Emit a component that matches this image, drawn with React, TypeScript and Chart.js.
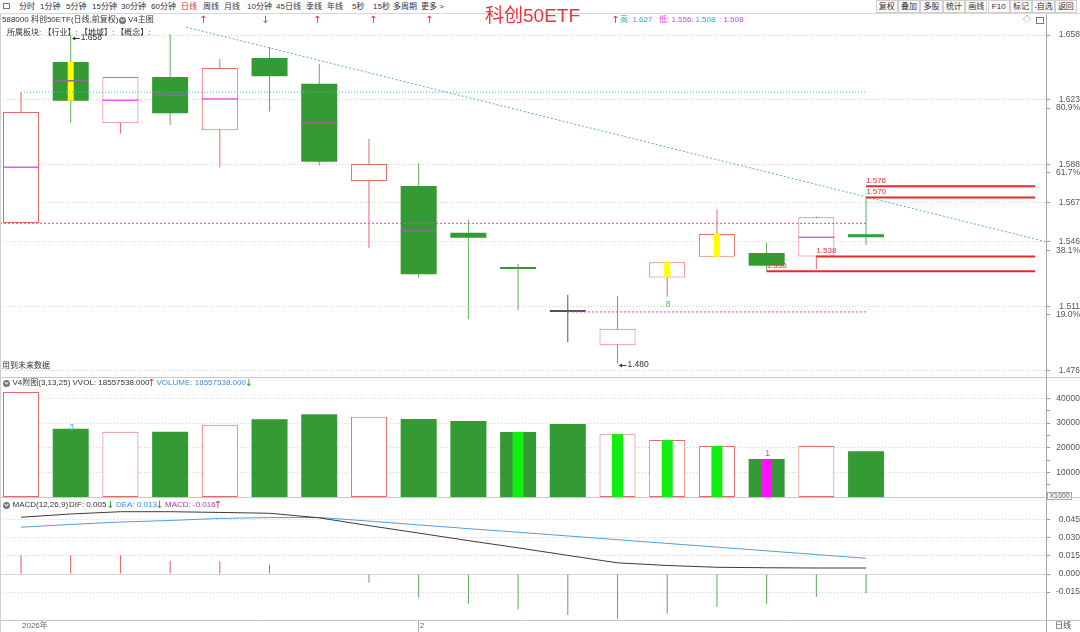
import React, { useEffect, useRef } from 'react';
import { Chart, registerables } from 'chart.js';

Chart.register(...registerables);

/* ---------------- data ---------------- */
const candleIdx = [0, 1, 2, 3, 4, 5, 6, 7, 8, 9, 10, 11, 12, 13, 14, 15, 16, 17];
const openPrices = [1.5562, 1.6434, 1.6102, 1.6353, 1.6064, 1.6455, 1.6316, 1.5789, 1.5762, 1.5509, 1.5318, 1.508, 1.4899, 1.5267, 1.5379, 1.5399, 1.538, 1.55];
const closePrices = [1.6163, 1.6224, 1.6353, 1.6156, 1.6401, 1.6356, 1.5894, 1.5881, 1.5284, 1.5482, 1.5313, 1.508, 1.4989, 1.5349, 1.5502, 1.533, 1.5593, 1.5484];
const highPrices = [1.6271, 1.658, 1.6353, 1.6584, 1.645, 1.6513, 1.6423, 1.6017, 1.5885, 1.558, 1.534, 1.5172, 1.5166, 1.5349, 1.5636, 1.5455, 1.5597, 1.57];
const lowPrices = [1.5562, 1.6105, 1.6045, 1.6092, 1.5863, 1.6165, 1.5874, 1.5425, 1.5262, 1.504, 1.5089, 1.4915, 1.48, 1.5162, 1.5379, 1.53, 1.5312, 1.5442];
const avgLineIdx = [0, 1, 2, 3, 4, 6, 8, 16];
const avgLineVals = [1.5863, 1.6332, 1.6226, 1.6255, 1.6233, 1.6105, 1.552, 1.5484];
const signalBodyIdx = [1, 13, 14];

const priceTickVals = [1.658, 1.623, 1.588, 1.567, 1.546, 1.511, 1.476];
const priceTickLabels = ['1.658', '1.623', '1.588', '1.567', '1.546', '1.511', '1.476'];
const pctTickAnchor = [1.623, 1.588, 1.546, 1.511];
const pctTickLabels = ['80.9%', '61.7%', '38.1%', '19.0%'];

const levelVals = [1.576, 1.57, 1.538, 1.53];
const levelFromIdx = [17, 17, 16, 15];
const levelToIdx = 20.4;

const refHigh = 1.627;
const refLow = 1.556;
const refLast = 1.508;
const refHighFrom = 0;
const refLowFrom = -0.4225;
const refLastFrom = 11;
const refTo = 17;
const trendIdx = [3.32, 20.62];
const trendVals = [1.6623, 1.546];

const peakIdx = 1;
const peakVal = 1.658;
const troughIdx = 12;
const troughVal = 1.48;
const signal8Idx = 13;
const signal8Text = '8';

const volumes = [42630, 27650, 26440, 26440, 29270, 31540, 33560, 32510, 31600, 30800, 26400, 29600, 25500, 23100, 20700, 15400, 20700, 18558];
const volSignalA = [10, 12, 13, 14];
const volSignalB = [15];
const volNoteIdx = [1, 15];
const volNoteText = ['3', '1'];
const volTickVals = [40000, 30000, 20000, 10000];
const volTickLabels = ['40000', '30000', '20000', '10000'];
const volMinorVals = [35000, 25000, 15000, 5000];

const macdHist = [0.0156, 0.0156, 0.0156, 0.0111, 0.0106, 0.0078, 0.0005, -0.0072, -0.0197, -0.0247, -0.0294, -0.0342, -0.0372, -0.0331, -0.0275, -0.0247, -0.0189, -0.0161];
const difVals = [0.0473, 0.05, 0.0519, 0.0519, 0.0513, 0.0506, 0.0468, 0.0403, 0.0341, 0.0278, 0.0218, 0.0155, 0.0093, 0.0071, 0.0056, 0.0052, 0.005, 0.005];
const deaVals = [0.039, 0.0413, 0.0433, 0.0446, 0.0463, 0.047, 0.0471, 0.0441, 0.0409, 0.0378, 0.0348, 0.0317, 0.0286, 0.0255, 0.0224, 0.0193, 0.0162, 0.0131];
const macdTickVals = [0.045, 0.03, 0.015, 0, -0.015];
const macdTickLabels = ['0.045', '0.030', '0.015', '0.000', '-0.015'];
const dateTickIdx = [0, 8];
const dateTickLabels = ['2026年', '2'];

/* ---------------- layout / style ---------------- */
const X_MIN = -0.4225;
const X_MAX = 20.62;
const MAIN_MIN = 1.47273;
const MAIN_MAX = 1.66938;
const MAIN_H = 363;
const VOL_MAX = 48276;
const MACD_MIN = -0.03833;
const MACD_MAX = 0.06333;

const FONT = '"Liberation Sans", Arial, "Noto Sans CJK SC", sans-serif';
const UP = '#e46a6a';
const DOWN = '#349a34';
const FLAT = '#555555';
const WICK_DOWN = '#5fae5f';
const GRID = '#d0d0d0';
const AXIS = '#a8a8a8';
const TRANSP = 'rgba(0,0,0,0)';

const kind = (i: number) => (closePrices[i] > openPrices[i] ? 'up' : closePrices[i] < openPrices[i] ? 'down' : 'flat');

const key = (v: any) => Number(v).toFixed(6);

function xScale() {
  return {
    type: 'linear',
    min: X_MIN,
    max: X_MAX,
    offset: false,
    display: false,
    grid: { offset: false },
    afterBuildTicks: (s: any) => {
      s.ticks = candleIdx.map((v) => ({ value: v }));
    },
  };
}

function yAxis(min: number, max: number, ticks: { value: number; label: string; major: boolean }[], zeroSolid = false) {
  const map = new Map(ticks.map((t) => [key(t.value), t]));
  const get = (v: any) => map.get(key(v));
  return {
    position: 'right',
    min,
    max,
    afterBuildTicks: (s: any) => {
      s.ticks = ticks.map((t) => ({ value: t.value }));
    },
    afterFit: (s: any) => {
      s.width = 34;
      s.paddingTop = 0;
      s.paddingBottom = 0;
    },
    ticks: {
      autoSkip: false,
      padding: 1,
      crossAlign: 'far',
      color: '#555',
      font: { family: FONT, size: 8.5 },
      callback: (v: any) => (get(v) ? get(v)!.label : ''),
    },
    grid: {
      color: (c: any) => {
        if (!c.tick) return TRANSP;
        const t = get(c.tick.value);
        if (!t || !t.major) return TRANSP;
        return zeroSolid && c.tick.value === 0 ? '#d6d6d6' : GRID;
      },
      tickColor: '#999',
      tickLength: 4,
      lineWidth: 1,
    },
    border: {
      display: true,
      color: AXIS,
      dash: (c: any) => (zeroSolid && c.tick && c.tick.value === 0 ? [] : [1, 2]),
    },
  };
}

const baseOptions = {
  responsive: false,
  animation: false,
  devicePixelRatio: 1,
  events: [],
  layout: { padding: 0, autoPadding: false },
  plugins: { legend: { display: false }, tooltip: { enabled: false } },
};

function hline(x0: number, x1: number, y: number, color: string, width: number, dash: number[]) {
  return {
    type: 'line',
    data: [
      { x: x0, y },
      { x: x1, y },
    ],
    borderColor: color,
    borderWidth: width,
    borderDash: dash,
    pointRadius: 0,
    order: 1,
  };
}

function arrowLabel(ctx: CanvasRenderingContext2D, x: number, y: number, text: string, color: string) {
  ctx.strokeStyle = color;
  ctx.fillStyle = color;
  ctx.lineWidth = 1;
  ctx.beginPath();
  ctx.moveTo(x + 2, y + 0.5);
  ctx.lineTo(x + 9, y + 0.5);
  ctx.stroke();
  ctx.beginPath();
  ctx.moveTo(x + 1.5, y + 0.5);
  ctx.lineTo(x + 4.5, y - 1.5);
  ctx.lineTo(x + 4.5, y + 2.5);
  ctx.closePath();
  ctx.fill();
  ctx.textAlign = 'left';
  ctx.textBaseline = 'middle';
  ctx.fillText(text, x + 10, y);
}

function mainConfig(): any {
  const pctOffset = 8.5 * ((MAIN_MAX - MAIN_MIN) / MAIN_H);
  const ticks = [
    ...priceTickVals.map((v, i) => ({ value: v, label: priceTickLabels[i], major: true })),
    ...pctTickAnchor.map((v, i) => ({ value: v - pctOffset, label: pctTickLabels[i], major: false })),
  ].sort((a, b) => a.value - b.value);

  const labelPlugin = {
    id: 'mainLabels',
    afterDatasetsDraw(chart: any) {
      const { ctx, scales } = chart;
      const x = scales.x;
      const y = scales.y;
      ctx.save();
      ctx.font = `8px ${FONT}`;
      levelVals.forEach((v, i) => {
        ctx.fillStyle = '#e03030';
        ctx.textAlign = 'left';
        ctx.textBaseline = 'middle';
        ctx.fillText(v.toFixed(3), x.getPixelForValue(levelFromIdx[i]), y.getPixelForValue(v) - 5.5);
      });
      ctx.font = `8.5px ${FONT}`;
      arrowLabel(ctx, x.getPixelForValue(peakIdx), y.getPixelForValue(peakVal) + 3, peakVal.toFixed(3), '#333');
      arrowLabel(ctx, x.getPixelForValue(troughIdx), y.getPixelForValue(troughVal) + 1.5, troughVal.toFixed(3), '#333');
      ctx.fillStyle = '#3fcf3f';
      ctx.textAlign = 'center';
      ctx.textBaseline = 'middle';
      ctx.fillText(signal8Text, x.getPixelForValue(signal8Idx) + 1, y.getPixelForValue(lowPrices[signal8Idx]) + 8);
      ctx.restore();
    },
  };

  return {
    type: 'bar',
    data: {
      datasets: [
        {
          label: 'wick',
          data: candleIdx.map((i) => ({ x: i, y: [lowPrices[i], highPrices[i]] })),
          backgroundColor: candleIdx.map((i) => (kind(i) === 'up' ? UP : kind(i) === 'down' ? WICK_DOWN : FLAT)),
          borderWidth: 0,
          barThickness: 1,
          maxBarThickness: 1,
          inflateAmount: 0,
          grouped: false,
          order: 6,
        },
        {
          label: 'body',
          data: candleIdx.map((i) => ({ x: i, y: [openPrices[i], closePrices[i]] })),
          backgroundColor: candleIdx.map((i) => (kind(i) === 'up' ? '#ffffff' : kind(i) === 'down' ? DOWN : FLAT)),
          borderColor: candleIdx.map((i) => (kind(i) === 'up' ? UP : kind(i) === 'down' ? DOWN : FLAT)),
          borderWidth: candleIdx.map((i) => (kind(i) === 'up' ? 1 : 0)),
          borderSkipped: false,
          barThickness: 36,
          maxBarThickness: 36,
          minBarLength: 2,
          inflateAmount: 0,
          grouped: false,
          order: 5,
        },
        {
          label: 'signal',
          data: signalBodyIdx.map((i) => ({ x: i, y: [openPrices[i], closePrices[i]] })),
          backgroundColor: '#ffff00',
          borderWidth: 0,
          barThickness: 6,
          maxBarThickness: 6,
          inflateAmount: 0,
          grouped: false,
          order: 4,
        },
        {
          type: 'line',
          label: 'avg',
          data: avgLineIdx.map((i, k) => ({ x: i, y: avgLineVals[k] })),
          showLine: false,
          pointStyle: 'line',
          pointRadius: 18,
          pointBorderWidth: 1.5,
          pointBorderColor: avgLineIdx.map((i) => (kind(i) === 'up' ? '#ee55ee' : '#8a6f8a')),
          pointBackgroundColor: TRANSP,
          order: 3,
        },
        {
          type: 'line',
          label: 'trend',
          data: trendIdx.map((v, k) => ({ x: v, y: trendVals[k] })),
          borderColor: '#5aa6e6',
          borderWidth: 1,
          borderDash: [2, 2],
          pointRadius: 0,
          order: 2,
        },
        hline(refHighFrom, refTo, refHigh, '#35c8c8', 1, [1, 2]),
        hline(refLowFrom, refTo, refLow, '#e040e0', 1, [2, 2]),
        hline(refLastFrom, refTo, refLast, '#e040e0', 1, [2, 2]),
        ...levelVals.map((v, i) => hline(levelFromIdx[i], levelToIdx, v, '#e42a2a', 2, [])),
      ],
    },
    options: {
      ...baseOptions,
      scales: {
        x: xScale(),
        y: yAxis(MAIN_MIN, MAIN_MAX, ticks),
      },
    },
    plugins: [labelPlugin],
  };
}

function volConfig(): any {
  const ticks = [
    ...volTickVals.map((v, i) => ({ value: v, label: volTickLabels[i], major: true })),
    ...volMinorVals.map((v) => ({ value: v, label: '', major: false })),
  ].sort((a, b) => a.value - b.value);
  const volUp = (i: number) => kind(i) === 'up';
  const notePlugin = {
    id: 'volNotes',
    afterDatasetsDraw(chart: any) {
      const { ctx, scales } = chart;
      ctx.save();
      ctx.font = `8.5px ${FONT}`;
      ctx.textAlign = 'center';
      ctx.textBaseline = 'bottom';
      volNoteIdx.forEach((idx, k) => {
        ctx.fillStyle = k === 0 ? '#33b8d0' : '#e030e0';
        ctx.fillText(volNoteText[k], scales.x.getPixelForValue(idx) + 1, scales.y.getPixelForValue(volumes[idx]) + (k === 0 ? 3 : -1));
      });
      ctx.restore();
    },
  };
  const stripeIdx = [...volSignalA, ...volSignalB];
  return {
    type: 'bar',
    data: {
      datasets: [
        {
          label: 'vol',
          data: candleIdx.map((i) => ({ x: i, y: volumes[i] })),
          backgroundColor: candleIdx.map((i) => (volUp(i) ? '#ffffff' : DOWN)),
          borderColor: candleIdx.map((i) => (volUp(i) ? UP : DOWN)),
          borderWidth: candleIdx.map((i) => (volUp(i) ? 1 : 0)),
          borderSkipped: false,
          barThickness: 36,
          maxBarThickness: 36,
          inflateAmount: 0,
          grouped: false,
          order: 2,
        },
        {
          label: 'volSignal',
          data: stripeIdx.map((i) => ({ x: i, y: volumes[i] })),
          backgroundColor: stripeIdx.map((i) => (volSignalB.includes(i) ? '#ff11ff' : '#11ee11')),
          borderWidth: 0,
          barThickness: 11,
          maxBarThickness: 11,
          inflateAmount: 0,
          grouped: false,
          order: 1,
        },
      ],
    },
    options: {
      ...baseOptions,
      scales: {
        x: xScale(),
        y: yAxis(0, VOL_MAX, ticks),
      },
    },
    plugins: [notePlugin],
  };
}

function macdConfig(): any {
  const ticks = macdTickVals.map((v, i) => ({ value: v, label: macdTickLabels[i], major: true }));
  const dateLabel = (v: any) => {
    const k = dateTickIdx.findIndex((d) => key(d) === key(v));
    return k >= 0 ? dateTickLabels[k] : '';
  };
  return {
    type: 'bar',
    data: {
      datasets: [
        {
          label: 'MACD',
          data: candleIdx.map((i) => ({ x: i, y: macdHist[i] })),
          backgroundColor: candleIdx.map((i) => (macdHist[i] >= 0 ? '#e05a5a' : '#5aa85a')),
          borderWidth: 0,
          barThickness: 1,
          maxBarThickness: 1,
          inflateAmount: 0,
          grouped: false,
          order: 3,
        },
        {
          type: 'line',
          label: 'DEA',
          data: candleIdx.map((i) => ({ x: i, y: deaVals[i] })),
          borderColor: '#4f9fd8',
          borderWidth: 1,
          pointRadius: 0,
          tension: 0,
          order: 2,
        },
        {
          type: 'line',
          label: 'DIF',
          data: candleIdx.map((i) => ({ x: i, y: difVals[i] })),
          borderColor: '#3a3a3a',
          borderWidth: 1,
          pointRadius: 0,
          tension: 0,
          order: 1,
        },
      ],
    },
    options: {
      ...baseOptions,
      scales: {
        x: {
          type: 'linear',
          min: X_MIN,
          max: X_MAX,
          offset: false,
          position: 'bottom',
          afterBuildTicks: (s: any) => {
            s.ticks = dateTickIdx.map((v) => ({ value: v }));
          },
          afterFit: (s: any) => {
            s.height = 12;
            s.paddingLeft = 0;
            s.paddingRight = 0;
          },
          ticks: {
            autoSkip: false,
            maxRotation: 0,
            minRotation: 0,
            align: 'start',
            padding: -11,
            labelOffset: 1,
            color: '#666',
            font: { family: FONT, size: 8 },
            callback: (v: any) => dateLabel(v),
          },
          grid: {
            offset: false,
            drawOnChartArea: false,
            drawTicks: true,
            tickLength: 12,
            tickColor: (c: any) => (c.index === 0 ? TRANSP : '#b0b0b0'),
          },
          border: { display: true, color: '#c4c4c4' },
        },
        y: yAxis(MACD_MIN, MACD_MAX, ticks, true),
      },
    },
  };
}

/* ---------------- DOM chrome ---------------- */
const toolbarItems = ['分时', '1分钟', '5分钟', '15分钟', '30分钟', '60分钟', '日线', '周线', '月线', '10分钟', '45日线', '季线', '年线', '5秒', '15秒', '多周期', '更多 >'];
const toolbarX = [19, 40, 66, 92, 121, 151, 181, 203, 224, 247, 276, 306, 327, 352, 373, 393, 421];
const rightButtons = ['复权', '叠加', '多股', '统计', '画线', 'F10', '标记', '-自选', '返回'];
const periodArrows = ['↑', '↓', '↑', '↑', '↑'];
const periodArrowX = [199, 261, 313, 369, 425];

const base: React.CSSProperties = {
  position: 'absolute',
  whiteSpace: 'nowrap',
  fontSize: 8,
  lineHeight: '10px',
  color: '#333',
  fontFamily: FONT,
};

function Txt({ x, y, c, s, children, extra }: any) {
  return <span style={{ ...base, left: x, top: y, color: c || '#333', fontSize: s || 8, ...(extra || {}) }}>{children}</span>;
}

function Arrow({ x, y, up }: any) {
  return (
    <span style={{ ...base, left: x, top: y - 1, fontSize: 10, lineHeight: '12px', color: up ? '#e03030' : '#2a9a2a', fontFamily: '"DejaVu Sans", sans-serif' }}>
      {up ? '↑' : '↓'}
    </span>
  );
}

function Dot({ x, y }: any) {
  return (
    <span style={{ position: 'absolute', left: x, top: y, width: 7, height: 7, borderRadius: '50%', background: '#777' }}>
      <span style={{ position: 'absolute', left: 2, top: 1.5, width: 2, height: 2, borderRight: '1px solid #fff', borderBottom: '1px solid #fff', transform: 'rotate(45deg)' }} />
    </span>
  );
}

function Line({ x, y, w, h, c }: any) {
  return <div style={{ position: 'absolute', left: x, top: y, width: w, height: h, background: c || '#cfcfcf' }} />;
}

export default function App() {
  const mainRef = useRef<HTMLCanvasElement>(null);
  const volRef = useRef<HTMLCanvasElement>(null);
  const macdRef = useRef<HTMLCanvasElement>(null);

  useEffect(() => {
    const charts: Chart[] = [];
    charts.push(new Chart(mainRef.current as HTMLCanvasElement, mainConfig()));
    charts.push(new Chart(volRef.current as HTMLCanvasElement, volConfig()));
    charts.push(new Chart(macdRef.current as HTMLCanvasElement, macdConfig()));
    return () => charts.forEach((c) => c.destroy());
  }, []);

  return (
    <div style={{ position: 'fixed', left: 0, top: 0, width: 1080, height: 632, background: '#fff', overflow: 'hidden', fontFamily: FONT }}>
      <canvas ref={mainRef} width={1080} height={MAIN_H} style={{ position: 'absolute', left: 0, top: 14 }} />
      <canvas ref={volRef} width={1080} height={119} style={{ position: 'absolute', left: 0, top: 378 }} />
      <canvas ref={macdRef} width={1080} height={134} style={{ position: 'absolute', left: 0, top: 498 }} />

      {/* frame lines */}
      <Line x={0} y={13} w={1080} h={1} c="#d8d8d8" />
      <Line x={0} y={377} w={1080} h={1} c="#c8c8c8" />
      <Line x={0} y={497} w={1080} h={1} c="#c8c8c8" />
      <Line x={1046} y={14} w={1} h={618} c={AXIS} />
      <Line x={0} y={14} w={1} h={618} c="#d0d0d0" />

      {/* toolbar */}
      <span style={{ position: 'absolute', left: 3, top: 3, width: 7, height: 6, border: '1px solid #777', boxSizing: 'border-box' }} />
      {toolbarItems.map((t, i) => (
        <Txt key={t} x={toolbarX[i]} y={2} c={t === '日线' ? '#e03030' : '#333'}>
          {t}
        </Txt>
      ))}
      {rightButtons.map((t, i) => (
        <span
          key={t}
          style={{
            ...base,
            left: 875.5 + i * 22.4,
            top: 0,
            width: 22.4,
            height: 13,
            boxSizing: 'border-box',
            border: '1px solid #cfcfcf',
            background: '#fafafa',
            textAlign: 'center',
            lineHeight: '11px',
          }}
        >
          {t}
        </span>
      ))}

      {/* title */}
      <Txt x={485} y={5} c="#e8363b" s={19} extra={{ lineHeight: '22px' }}>
        科创50ETF
      </Txt>

      {/* row 2 */}
      <Txt x={2} y={15}>588000 科创50ETF(日线,前复权)</Txt>
      <Dot x={119} y={16.5} />
      <Txt x={128} y={15}>V4主图</Txt>
      {periodArrows.map((a, i) => (
        <Arrow key={i} x={periodArrowX[i]} y={15} up={a === '↑'} />
      ))}
      <Arrow x={611} y={15} up />
      <Txt x={620} y={15} c="#25b5b5">高: 1.627</Txt>
      <Txt x={659} y={15} c="#e040e0">低: 1.556</Txt>
      <Txt x={691} y={15} c="#25b5b5">: 1.508</Txt>
      <Txt x={719} y={15} c="#e040e0">: 1.508</Txt>
      <Txt x={1023} y={15} c="#666">◇</Txt>
      <span style={{ position: 'absolute', left: 1036, top: 16.5, width: 8, height: 7, border: '1px solid #777', boxSizing: 'border-box' }} />

      {/* row 3 */}
      <Txt x={7} y={28}>所属板块: 【行业】: 【地域】: 【概念】:</Txt>
      <Txt x={2} y={361}>用到未来数据</Txt>

      {/* volume header */}
      <Dot x={3} y={379.5} />
      <Txt x={12.5} y={378}>V4附图(3,13,25)</Txt>
      <Txt x={72.5} y={378}>VVOL: 18557538.000</Txt>
      <Arrow x={147} y={378} up />
      <Txt x={156.5} y={378} c="#3a8fd8">VOLUME: 18557538.000</Txt>
      <Arrow x={244.5} y={378} up={false} />
      <span style={{ ...base, left: 1047, top: 492, width: 25, height: 8, border: '1px solid #aaa', boxSizing: 'border-box', fontSize: 7, lineHeight: '6px', color: '#555', textAlign: 'center', background: '#fff' }}>
        X1000
      </span>

      {/* macd header */}
      <Dot x={3} y={501.5} />
      <Txt x={12.5} y={500}>MACD(12,26,9)</Txt>
      <Txt x={69} y={500}>DIF: 0.005</Txt>
      <Arrow x={106} y={500} up={false} />
      <Txt x={116} y={500} c="#3a8fd8">DEA: 0.013</Txt>
      <Arrow x={155} y={500} up={false} />
      <Txt x={165} y={500} c="#a040a0">MACD: -0.016</Txt>
      <Arrow x={213.5} y={500} up />

      {/* bottom-right */}
      <Line x={1046} y={620} w={34} h={1} c="#c4c4c4" />
      <Txt x={1055} y={621} c="#444">日线</Txt>
    </div>
  );
}
